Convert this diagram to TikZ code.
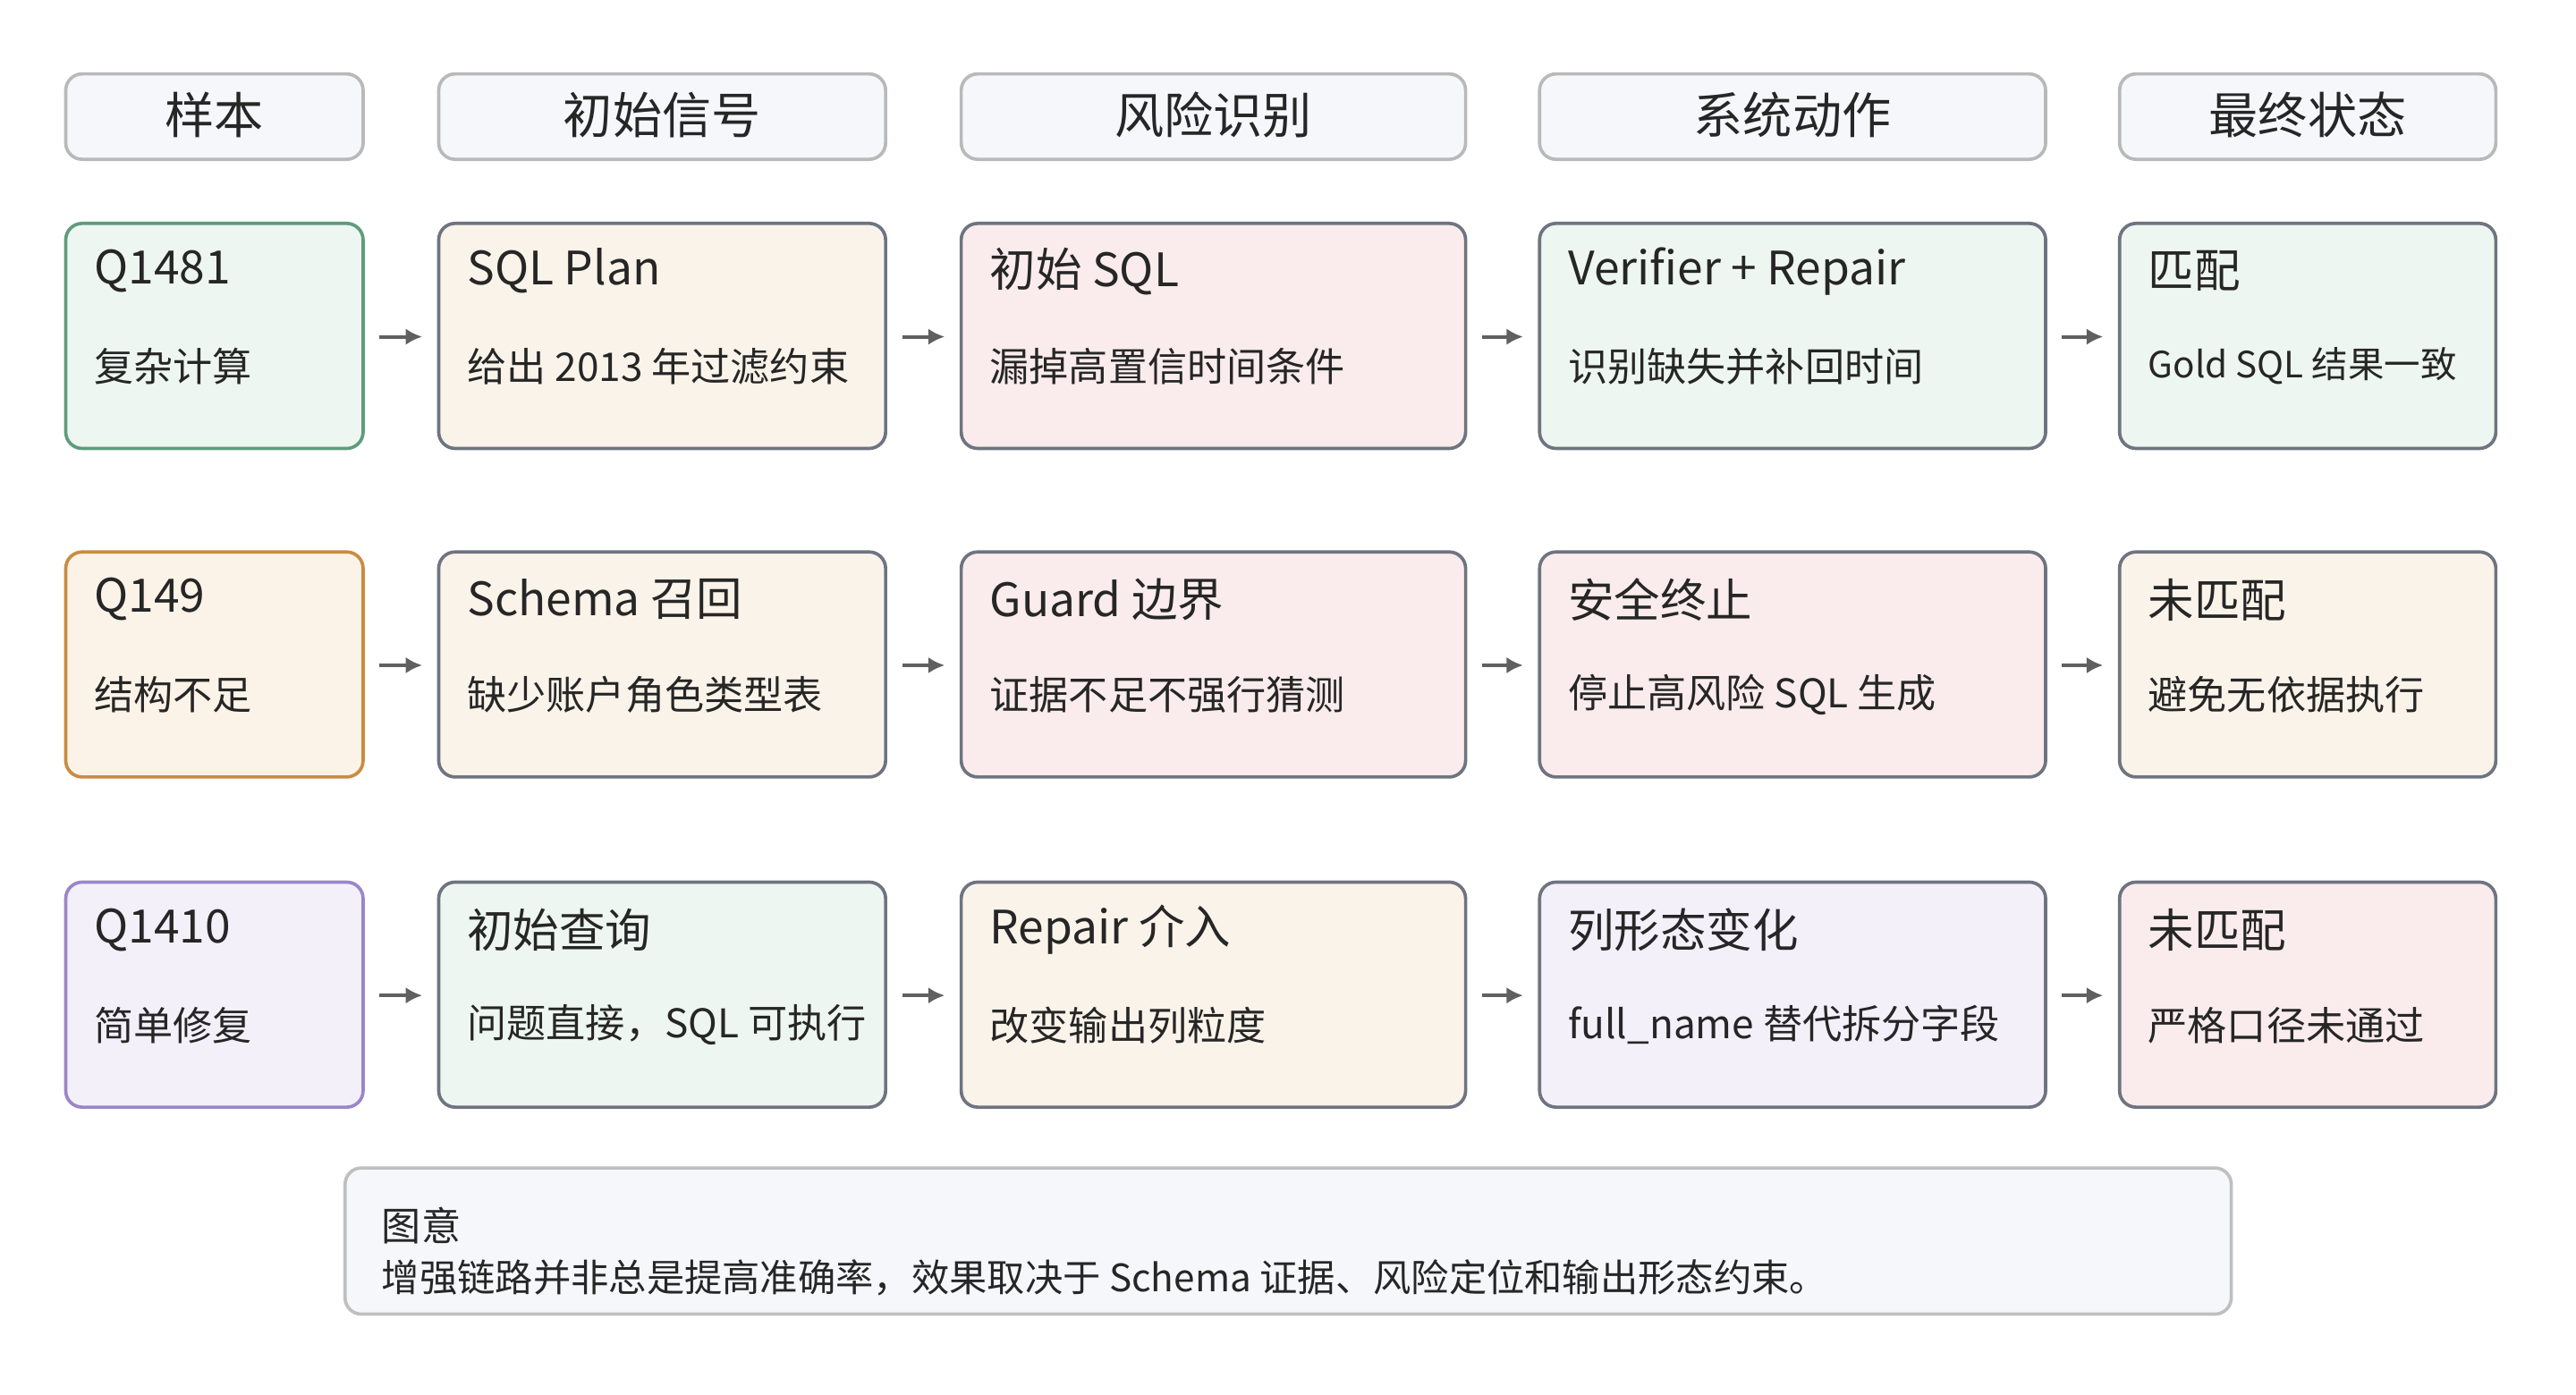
\documentclass[tikz,border=0pt]{standalone}
\usepackage{fontspec}
\setmainfont{Noto Sans CJK SC}
\usetikzlibrary{arrows.meta}
\begin{document}
\begin{tikzpicture}[x=0.4975bp,y=-0.4975bp,
 box/.style={draw, rounded corners=5pt, line width=1pt},
 ttl/.style={anchor=west, inner sep=0pt, font=\fontsize{14}{16}\selectfont, text=black!85},
 sub/.style={anchor=west, inner sep=0pt, font=\fontsize{12}{14}\selectfont, text=black!85},
 arr/.style={-{Latex[length=5pt,width=5pt]}, draw=gray!75!black, line width=1.1pt},
 hdt/.style={font=\fontsize{15}{17}\selectfont, text=black!85}]
\definecolor{gF}{HTML}{EEF6F1}\definecolor{gB}{HTML}{5E9C7C}
\definecolor{oF}{HTML}{FBF3E8}\definecolor{oB}{HTML}{C98C40}
\definecolor{pF}{HTML}{F3F0FA}\definecolor{pB}{HTML}{9A86C8}
\definecolor{bF}{HTML}{FAF3EA}\definecolor{rF}{HTML}{FAECEC}
\definecolor{nB}{HTML}{6E7480}\definecolor{hF}{HTML}{F5F7FA}
\path[use as bounding box,fill=white] (0,0) rectangle (1567.8,849.2);
\foreach \a/\b/\t/\n in {40/221/样本/h1,267/539/初始信号/h2,585/892/风险识别/h3,937/1245/系统动作/h4,1290/1519/最终状态/h5}{
  \draw[box, draw=gray!55, fill=hF] (\a,45) rectangle (\b,97);
  \node[hdt] (\n) at ({(\a+\b)/2},70) {\t};
}
\newcommand\cell[8]{%
  \draw[box, fill=#4, draw=#5] (#1,#3) rectangle (#2,#3+137);
  \node[ttl] (#8t) at (#1+17,#3+29) {#6};
  \node[sub] (#8s) at (#1+17,#3+87) {#7};
  \coordinate (#8w) at (#1,#3+69); \coordinate (#8e) at (#2,#3+69);}
\cell{40}{221}{136}{gF}{gB}{Q1481}{复杂计算}{a1}
\cell{267}{539}{136}{bF}{nB}{SQL Plan}{给出 2013 年过滤约束}{a2}
\cell{585}{892}{136}{rF}{nB}{初始 SQL}{漏掉高置信时间条件}{a3}
\cell{937}{1245}{136}{gF}{nB}{Verifier + Repair}{识别缺失并补回时间}{a4}
\cell{1290}{1519}{136}{gF}{nB}{匹配}{\fontsize{11}{13}\selectfont Gold SQL 结果一致}{a5}
\cell{40}{221}{336}{oF}{oB}{Q149}{结构不足}{b1}
\cell{267}{539}{336}{bF}{nB}{Schema 召回}{缺少账户角色类型表}{b2}
\cell{585}{892}{336}{rF}{nB}{Guard 边界}{证据不足不强行猜测}{b3}
\cell{937}{1245}{336}{rF}{nB}{安全终止}{停止高风险 SQL 生成}{b4}
\cell{1290}{1519}{336}{bF}{nB}{未匹配}{避免无依据执行}{b5}
\cell{40}{221}{537}{pF}{pB}{Q1410}{简单修复}{c1}
\cell{267}{539}{537}{gF}{nB}{初始查询}{问题直接，SQL 可执行}{c2}
\cell{585}{892}{537}{bF}{nB}{Repair 介入}{改变输出列粒度}{c3}
\cell{937}{1245}{537}{pF}{nB}{列形态变化}{full\_name 替代拆分字段}{c4}
\cell{1290}{1519}{537}{rF}{nB}{未匹配}{严格口径未通过}{c5}
\foreach \r in {a,b,c}{
  \draw[arr] ([xshift=5pt]\r1e) -- ([xshift=-5pt]\r2w);
  \draw[arr] ([xshift=5pt]\r2e) -- ([xshift=-5pt]\r3w);
  \draw[arr] ([xshift=5pt]\r3e) -- ([xshift=-5pt]\r4w);
  \draw[arr] ([xshift=5pt]\r4e) -- ([xshift=-5pt]\r5w);
}
\draw[box, draw=gray!50, fill=hF] (210,711) rectangle (1358,800);
\node[sub] (lg1) at (232,746) {图意};
\node[sub, font=\fontsize{11.5}{13}\selectfont] (lg2) at (232,778) {增强链路并非总是提高准确率，效果取决于 Schema 证据、风险定位和输出形态约束。};
\end{tikzpicture}
\end{document}
